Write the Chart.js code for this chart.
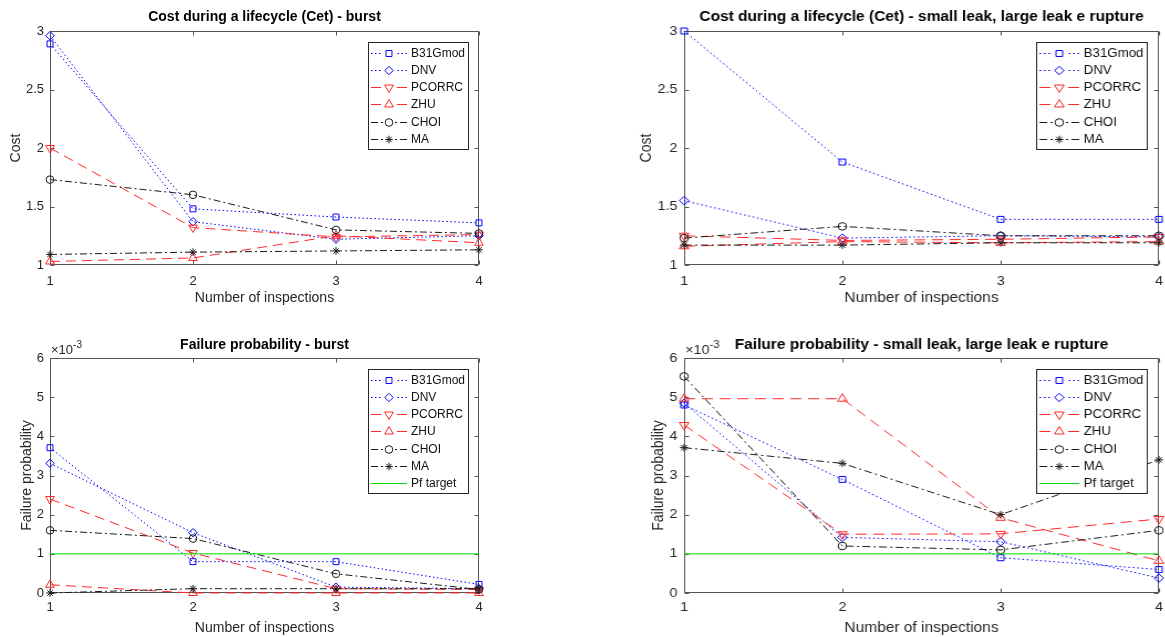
<!DOCTYPE html>
<html>
<head>
<meta charset="utf-8">
<script src="https://cdn.jsdelivr.net/npm/chart.js@4.4.1/dist/chart.umd.min.js"></script>
<style>
  html, body { margin: 0; padding: 0; background: #fff; }
  #wrap { position: relative; width: 1165px; height: 637px; overflow: hidden; background: #fff; }
  #wrap canvas { position: absolute; }
</style>
</head>
<body>
<div id="wrap">
  <!-- right column of the original figure is stretched a bit wider, so the right canvases are stretched with css -->
  <canvas id="costBurst" width="543" height="318" style="left:-7px;top:0;width:543px;height:318px"></canvas>
  <canvas id="costLeak" width="543" height="318" style="left:621px;top:0;width:601px;height:318px"></canvas>
  <canvas id="pfBurst" width="543" height="319" style="left:-7px;top:318px;width:543px;height:319px"></canvas>
  <canvas id="pfLeak" width="543" height="319" style="left:621px;top:318px;width:601px;height:319px"></canvas>
</div>
<script>
// --- data ---
const inspections = [1, 2, 3, 4];
const costTicks = [1, 1.5, 2, 2.5, 3];
const pfTicks = [0, 0.001, 0.002, 0.003, 0.004, 0.005, 0.006];

// Cost during a lifecycle (Cet) - burst
const costBurstB31Gmod = [2.89, 1.48, 1.41, 1.36];
const costBurstDNV     = [2.96, 1.37, 1.22, 1.25];
const costBurstPCORRC  = [2.00, 1.32, 1.24, 1.26];
const costBurstZHU     = [1.03, 1.06, 1.25, 1.19];
const costBurstCHOI    = [1.73, 1.60, 1.30, 1.27];
const costBurstMA      = [1.09, 1.11, 1.12, 1.13];

// Cost during a lifecycle (Cet) - small leak, large leak e rupture
const costLeakB31Gmod = [3.00, 1.88, 1.39, 1.39];
const costLeakDNV     = [1.55, 1.23, 1.25, 1.24];
const costLeakPCORRC  = [1.25, 1.21, 1.22, 1.24];
const costLeakZHU     = [1.16, 1.20, 1.19, 1.20];
const costLeakCHOI    = [1.23, 1.33, 1.25, 1.25];
const costLeakMA      = [1.17, 1.17, 1.19, 1.19];

// Failure probability - burst
const pfBurstB31Gmod = [0.00371, 0.00080, 0.00080, 0.00022];
const pfBurstDNV     = [0.00331, 0.00154, 0.00015, 0.00011];
const pfBurstPCORRC  = [0.00240, 0.00102, 0.00011, 0.00009];
const pfBurstZHU     = [0.00021, 0.00000, 0.00000, 0.00000];
const pfBurstCHOI    = [0.00160, 0.00139, 0.00049, 0.00009];
const pfBurstMA      = [0.00000, 0.00011, 0.00011, 0.00011];

// Failure probability - small leak, large leak e rupture
const pfLeakB31Gmod = [0.00480, 0.00290, 0.00090, 0.00060];
const pfLeakDNV     = [0.00485, 0.00142, 0.00131, 0.00038];
const pfLeakPCORRC  = [0.00429, 0.00150, 0.00151, 0.00189];
const pfLeakZHU     = [0.00496, 0.00496, 0.00192, 0.00082];
const pfLeakCHOI    = [0.00553, 0.00120, 0.00110, 0.00160];
const pfLeakMA      = [0.00371, 0.00331, 0.00200, 0.00340];

const pfTarget = [0.001, 0.001, 0.001, 0.001];

// --- styles (MATLAB-like) ---
const FONT = '"Liberation Sans", Arial, sans-serif';
const AXIS_COLOR = '#555';
const TEXT_COLOR = '#262626';
const Y_AXIS_WIDTH = 57;

const seriesStyle = {
  'B31Gmod':   { color: '#0000ff', dash: [1.5, 2.5], marker: 'rect', rot: 0, r: 4.2 },
  'DNV':       { color: '#0000ff', dash: [1.5, 2.5], marker: 'rectRot', rot: 0, r: 4.2 },
  'PCORRC':    { color: 'rgb(255,40,40)', dash: [10, 6], marker: 'triangle', rot: 180, r: 5 },
  'ZHU':       { color: 'rgb(255,40,40)', dash: [10, 6], marker: 'triangle', rot: 0, r: 5 },
  'CHOI':      { color: '#1a1a1a', dash: [7, 3, 2, 3], marker: 'circle', rot: 0, r: 3.8 },
  'MA':        { color: '#1a1a1a', dash: [7, 3, 2, 3], marker: 'star', rot: 0, r: 3.8 },
  'Pf target': { color: '#00dd00', dash: [], marker: false, rot: 0, r: 0 }
};

function series(label, values, idx) {
  const s = seriesStyle[label];
  return {
    label: label,
    data: inspections.map((x, i) => ({ x: x, y: values[i] })),
    borderColor: s.color,
    borderWidth: 1,
    borderDash: s.dash,
    pointStyle: s.marker,
    pointRotation: s.rot,
    pointRadius: s.r,
    pointBorderColor: s.color,
    pointBackgroundColor: 'rgba(0,0,0,0)',
    pointBorderWidth: 1,
    tension: 0,
    fill: false,
    clip: false,
    order: 10 - idx   // later series drawn on top, like MATLAB
  };
}

// box, inside ticks and x10^-3 label
const matlabAxes = {
  id: 'matlabAxes',
  beforeDatasetsDraw(chart, args, opts) {
    const { ctx, chartArea: a, scales } = chart;
    const L = Math.round(a.left) + 0.5, R = Math.round(a.right) - 0.5;
    const T = Math.round(a.top) + 0.5, B = Math.round(a.bottom) - 0.5;
    ctx.save();
    ctx.strokeStyle = AXIS_COLOR;
    ctx.lineWidth = 1;
    ctx.strokeRect(L, T, R - L, B - T);
    ctx.beginPath();
    scales.x.ticks.forEach(t => {
      const px = Math.round(scales.x.getPixelForValue(t.value)) + 0.5;
      ctx.moveTo(px, B); ctx.lineTo(px, B - 4);
      ctx.moveTo(px, T); ctx.lineTo(px, T + 4);
    });
    scales.y.ticks.forEach(t => {
      const py = Math.round(scales.y.getPixelForValue(t.value)) + 0.5;
      ctx.moveTo(L, py); ctx.lineTo(L + 4, py);
      ctx.moveTo(R, py); ctx.lineTo(R - 4, py);
    });
    ctx.stroke();
    if (opts.exponent) {
      ctx.fillStyle = TEXT_COLOR;
      ctx.textBaseline = 'middle';
      ctx.textAlign = 'left';
      ctx.font = '13px ' + FONT;
      const base = '\u00d710';
      ctx.fillText(base, a.left + 1, a.top - 8);
      const w = ctx.measureText(base).width;
      ctx.font = '10px ' + FONT;
      ctx.fillText('-3', a.left + 1 + w, a.top - 13);
    }
    ctx.restore();
  }
};

// MATLAB style legend box inside the upper right corner
const boxLegend = {
  id: 'boxLegend',
  afterDatasetsDraw(chart) {
    const { ctx, chartArea: a } = chart;
    const items = chart.data.datasets;
    const rowH = 17.3;
    ctx.save();
    ctx.font = '12px ' + FONT;
    const textW = Math.max(...items.map(d => ctx.measureText(d.label).width));
    const w = Math.round(textW + 46);
    const h = Math.round((items.length - 1) * rowH + 20);
    const x0 = Math.round(a.right - 11 - w);
    const y0 = Math.round(a.top + 11);
    ctx.fillStyle = '#fff';
    ctx.fillRect(x0, y0, w, h);
    ctx.strokeStyle = '#262626';
    ctx.lineWidth = 1;
    ctx.strokeRect(x0 + 0.5, y0 + 0.5, w, h);
    items.forEach((d, i) => {
      const cy = Math.round(y0 + 10.5 + i * rowH) + 0.5;
      ctx.strokeStyle = d.borderColor;
      ctx.setLineDash(d.borderDash);
      ctx.beginPath();
      if (d.pointStyle) {
        // two halves, each starting its pattern at the outer end
        ctx.moveTo(x0 + 3, cy); ctx.lineTo(x0 + 15, cy);
        ctx.stroke();
        ctx.beginPath();
        ctx.moveTo(x0 + 39, cy); ctx.lineTo(x0 + 27, cy);
      } else {
        ctx.moveTo(x0 + 3, cy); ctx.lineTo(x0 + 39, cy);
      }
      ctx.stroke();
      ctx.setLineDash([]);
      if (d.pointStyle && Chart.helpers && Chart.helpers.drawPoint) {
        ctx.fillStyle = 'rgba(0,0,0,0)';
        Chart.helpers.drawPoint(ctx, {
          pointStyle: d.pointStyle, rotation: d.pointRotation,
          radius: d.pointRadius, borderWidth: 1
        }, x0 + 21, cy);
      }
      ctx.fillStyle = '#111';
      ctx.textBaseline = 'middle';
      ctx.textAlign = 'left';
      ctx.fillText(d.label, x0 + 43, cy + 0.5);
    });
    ctx.restore();
  }
};

Chart.defaults.font.family = FONT;

function makeChart(id, cfg) {
  return new Chart(document.getElementById(id), {
    type: 'line',
    data: { datasets: cfg.datasets },
    options: {
      responsive: false,
      animation: false,
      events: [],
      layout: { padding: 0 },
      plugins: {
        legend: { display: false },
        tooltip: { enabled: false },
        title: {
          display: true,
          text: cfg.title,
          color: '#000',
          font: { size: 14, weight: 'bold' },
          padding: { top: cfg.titleTop, bottom: cfg.titleBottom }
        },
        matlabAxes: { exponent: cfg.exponent }
      },
      scales: {
        x: {
          type: 'linear',
          min: 1, max: 4,
          afterBuildTicks: s => { s.ticks = inspections.map(v => ({ value: v })); },
          afterFit: s => { s.height = cfg.xHeight; },
          grid: { display: false, drawTicks: false },
          border: { display: false },
          ticks: { color: TEXT_COLOR, font: { size: 13 }, padding: cfg.xTickPad, maxRotation: 0 },
          title: {
            display: true, text: 'Number of inspections', color: TEXT_COLOR,
            font: { size: 14 }, padding: { top: 0, bottom: cfg.xTitlePad }
          }
        },
        y: {
          type: 'linear',
          position: 'left',
          min: cfg.yTicks[0], max: cfg.yTicks[cfg.yTicks.length - 1],
          afterBuildTicks: s => { s.ticks = cfg.yTicks.map(v => ({ value: v })); },
          afterFit: s => { s.width = Y_AXIS_WIDTH; },
          grid: { display: false, drawTicks: false },
          border: { display: false },
          ticks: { color: TEXT_COLOR, font: { size: 13 }, padding: 6, callback: cfg.yFormat },
          title: {
            display: true, text: cfg.yTitle, color: TEXT_COLOR,
            font: { size: 14 }, padding: { top: cfg.yTitlePad, bottom: 0 }
          }
        },
        // empty right axis, keeps the plot box centred under the title
        yRight: {
          position: 'right',
          display: true,
          afterFit: s => { s.width = Y_AXIS_WIDTH; },
          grid: { display: false, drawTicks: false },
          border: { display: false },
          ticks: { display: false }
        }
      }
    },
    plugins: [matlabAxes, boxLegend]
  });
}

const costFormat = v => String(v);
const pfFormat = v => String(Math.round(v * 1000));

const costCommon = {
  yTicks: costTicks, yFormat: costFormat, yTitle: 'Cost', yTitlePad: 15,
  titleTop: 8.6, titleBottom: 5.6, xHeight: 53, xTickPad: 8.5, xTitlePad: 11.6, exponent: false
};
const pfCommon = {
  yTicks: pfTicks, yFormat: pfFormat, yTitle: 'Failure probability', yTitlePad: 25.5,
  titleTop: 18.6, titleBottom: 4.6, xHeight: 44, xTickPad: 7, xTitlePad: 0.6, exponent: true
};

makeChart('costBurst', Object.assign({}, costCommon, {
  title: 'Cost during a lifecycle (Cet) - burst',
  datasets: [
    series('B31Gmod', costBurstB31Gmod, 0),
    series('DNV', costBurstDNV, 1),
    series('PCORRC', costBurstPCORRC, 2),
    series('ZHU', costBurstZHU, 3),
    series('CHOI', costBurstCHOI, 4),
    series('MA', costBurstMA, 5)
  ]
}));

makeChart('costLeak', Object.assign({}, costCommon, {
  title: 'Cost during a lifecycle (Cet) - small leak, large leak e rupture',
  datasets: [
    series('B31Gmod', costLeakB31Gmod, 0),
    series('DNV', costLeakDNV, 1),
    series('PCORRC', costLeakPCORRC, 2),
    series('ZHU', costLeakZHU, 3),
    series('CHOI', costLeakCHOI, 4),
    series('MA', costLeakMA, 5)
  ]
}));

makeChart('pfBurst', Object.assign({}, pfCommon, {
  title: 'Failure probability - burst',
  datasets: [
    series('B31Gmod', pfBurstB31Gmod, 0),
    series('DNV', pfBurstDNV, 1),
    series('PCORRC', pfBurstPCORRC, 2),
    series('ZHU', pfBurstZHU, 3),
    series('CHOI', pfBurstCHOI, 4),
    series('MA', pfBurstMA, 5),
    series('Pf target', pfTarget, 6)
  ]
}));

makeChart('pfLeak', Object.assign({}, pfCommon, {
  title: 'Failure probability - small leak, large leak e rupture',
  datasets: [
    series('B31Gmod', pfLeakB31Gmod, 0),
    series('DNV', pfLeakDNV, 1),
    series('PCORRC', pfLeakPCORRC, 2),
    series('ZHU', pfLeakZHU, 3),
    series('CHOI', pfLeakCHOI, 4),
    series('MA', pfLeakMA, 5),
    series('Pf target', pfTarget, 6)
  ]
}));
</script>
</body>
</html>
